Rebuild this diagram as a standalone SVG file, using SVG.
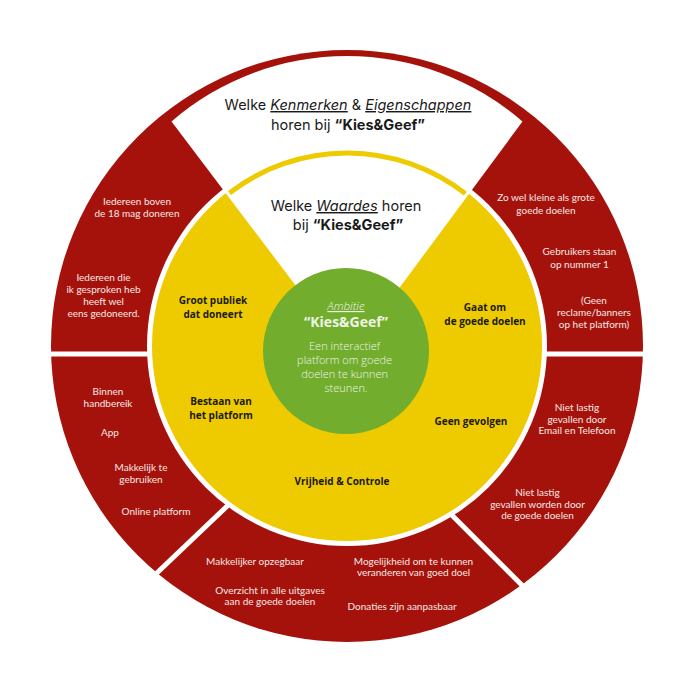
<svg xmlns="http://www.w3.org/2000/svg" width="694" height="692" viewBox="0 0 694 692">
  <style>
    .title { font-family: Inter, "Open Sans", sans-serif; font-size: 14.5px; fill: #1a1a1a; text-anchor: middle; }
    .title .b { font-weight: 700; }
    .title .u { font-style: italic; text-decoration: underline; }
    .red { font-family: Lato, "Open Sans", sans-serif; font-size: 10px; fill: #f6e9e4; text-anchor: middle; }
    .yel { font-family: "Open Sans", sans-serif; font-size: 10px; font-weight: 700; fill: #1c1a0a; text-anchor: middle; }
    .grn { font-family: "Open Sans", sans-serif; fill: #eef5e6; text-anchor: middle; }
    .gap { stroke: #ffffff; stroke-width: 5; fill: none; }
  </style>

  <rect width="694" height="692" fill="#ffffff"/>

  <!-- outer red ring -->
  <g id="outer-ring">
    <circle cx="347" cy="346" r="296" fill="#a5120c"/>
  </g>

  <!-- white separators between the outer segments -->
  <g id="connectors">
    <line class="gap" x1="40" y1="354" x2="170" y2="354"/>
    <line class="gap" x1="525" y1="354" x2="655" y2="354"/>
    <line class="gap" x1="238.8" y1="495" x2="139" y2="590"/>
    <line class="gap" x1="441.7" y1="505" x2="531.7" y2="595"/>
  </g>

  <!-- inner yellow ring -->
  <g id="inner-ring">
    <circle cx="347" cy="346" r="200" fill="#ffffff"/>
    <circle cx="347" cy="346" r="195" fill="#eecb00"/>
  </g>

  <!-- open wedge at the top holding the two questions -->
  <g id="top-wedge">
    <path d="M349 356 L171.5 121.5 A268 268 0 0 1 522.5 121.5 Z" fill="#ffffff"/>
    <path d="M229.5 192.9 A193 193 0 0 1 465.4 193.6" fill="none" stroke="#eecb00" stroke-width="5"/>
  </g>

  <!-- centre -->
  <g id="center">
    <circle cx="346" cy="351" r="83" fill="#72ad2e"/>
    <text class="grn" x="346" y="310" font-size="11.5" font-style="italic" font-weight="300" text-decoration="underline" fill="#dcebc8">Ambitie</text>
    <text class="grn" x="346" y="327" font-size="14" font-weight="700" fill="#ffffff">“Kies&amp;Geef”</text>
    <text class="grn" font-size="11" font-weight="300">
      <tspan x="346" y="349.5">Een interactief</tspan>
      <tspan x="346" y="364">platform om goede</tspan>
      <tspan x="346" y="378">doelen te kunnen</tspan>
      <tspan x="346" y="392">steunen.</tspan>
    </text>
  </g>

  <!-- questions -->
  <g id="question-outer">
    <text class="title" x="348" y="110">Welke <tspan class="u">Kenmerken</tspan> &amp; <tspan class="u">Eigenschappen</tspan></text>
    <text class="title" x="348" y="129.5">horen bij <tspan class="b">“Kies&amp;Geef”</tspan></text>
  </g>
  <g id="question-inner">
    <text class="title" x="346" y="211">Welke <tspan class="u">Waardes</tspan> horen</text>
    <text class="title" x="348" y="230">bij <tspan class="b">“Kies&amp;Geef”</tspan></text>
  </g>

  <!-- values in the yellow ring -->
  <g id="value-groot-publiek">
    <text class="yel"><tspan x="213" y="303.5">Groot publiek</tspan><tspan x="213" y="317.5">dat doneert</tspan></text>
  </g>
  <g id="value-goede-doelen">
    <text class="yel"><tspan x="485" y="311">Gaat om</tspan><tspan x="485" y="325">de goede doelen</tspan></text>
  </g>
  <g id="value-bestaan">
    <text class="yel"><tspan x="221" y="404.5">Bestaan van</tspan><tspan x="221" y="418.5">het platform</tspan></text>
  </g>
  <g id="value-geen-gevolgen">
    <text class="yel" x="471" y="425">Geen gevolgen</text>
  </g>
  <g id="value-vrijheid">
    <text class="yel" x="342" y="485">Vrijheid &amp; Controle</text>
  </g>

  <!-- characteristics in the red ring: upper left -->
  <g id="segment-upper-left">
    <text class="red"><tspan x="137" y="205">Iedereen boven</tspan><tspan x="137" y="216.5">de 18 mag doneren</tspan></text>
    <text class="red"><tspan x="103.5" y="281">Iedereen die</tspan><tspan x="103.5" y="293">ik gesproken heb</tspan><tspan x="103.5" y="304.5">heeft wel</tspan><tspan x="103.5" y="316.5">eens gedoneerd.</tspan></text>
  </g>

  <!-- upper right -->
  <g id="segment-upper-right">
    <text class="red"><tspan x="546" y="201">Zo wel kleine als grote</tspan><tspan x="546" y="213.5">goede doelen</tspan></text>
    <text class="red"><tspan x="579.5" y="255">Gebruikers staan</tspan><tspan x="579.5" y="267.5">op nummer 1</tspan></text>
    <text class="red"><tspan x="594" y="303.5">(Geen</tspan><tspan x="594" y="315.5">reclame/banners</tspan><tspan x="594" y="327.5">op het platform)</tspan></text>
  </g>

  <!-- lower left -->
  <g id="segment-lower-left">
    <text class="red"><tspan x="108" y="395">Binnen</tspan><tspan x="108" y="407">handbereik</tspan></text>
    <text class="red" x="110" y="436">App</text>
    <text class="red"><tspan x="141" y="471">Makkelijk te</tspan><tspan x="141" y="483">gebruiken</tspan></text>
    <text class="red" x="156" y="515">Online platform</text>
  </g>

  <!-- lower right -->
  <g id="segment-lower-right">
    <text class="red"><tspan x="577" y="411">Niet lastig</tspan><tspan x="577" y="422.5">gevallen door</tspan><tspan x="577" y="434">Email en Telefoon</tspan></text>
    <text class="red"><tspan x="537.5" y="496">Niet lastig</tspan><tspan x="537.5" y="507.5">gevallen worden door</tspan><tspan x="537.5" y="519">de goede doelen</tspan></text>
  </g>

  <!-- bottom -->
  <g id="segment-bottom">
    <text class="red" x="255" y="564.5">Makkelijker opzegbaar</text>
    <text class="red"><tspan x="413.5" y="564.5">Mogelijkheid om te kunnen</tspan><tspan x="413.5" y="576">veranderen van goed doel</tspan></text>
    <text class="red"><tspan x="270" y="593.5">Overzicht in alle uitgaves</tspan><tspan x="270" y="605">aan de goede doelen</tspan></text>
    <text class="red" x="402" y="610">Donaties zijn aanpasbaar</text>
  </g>
</svg>
